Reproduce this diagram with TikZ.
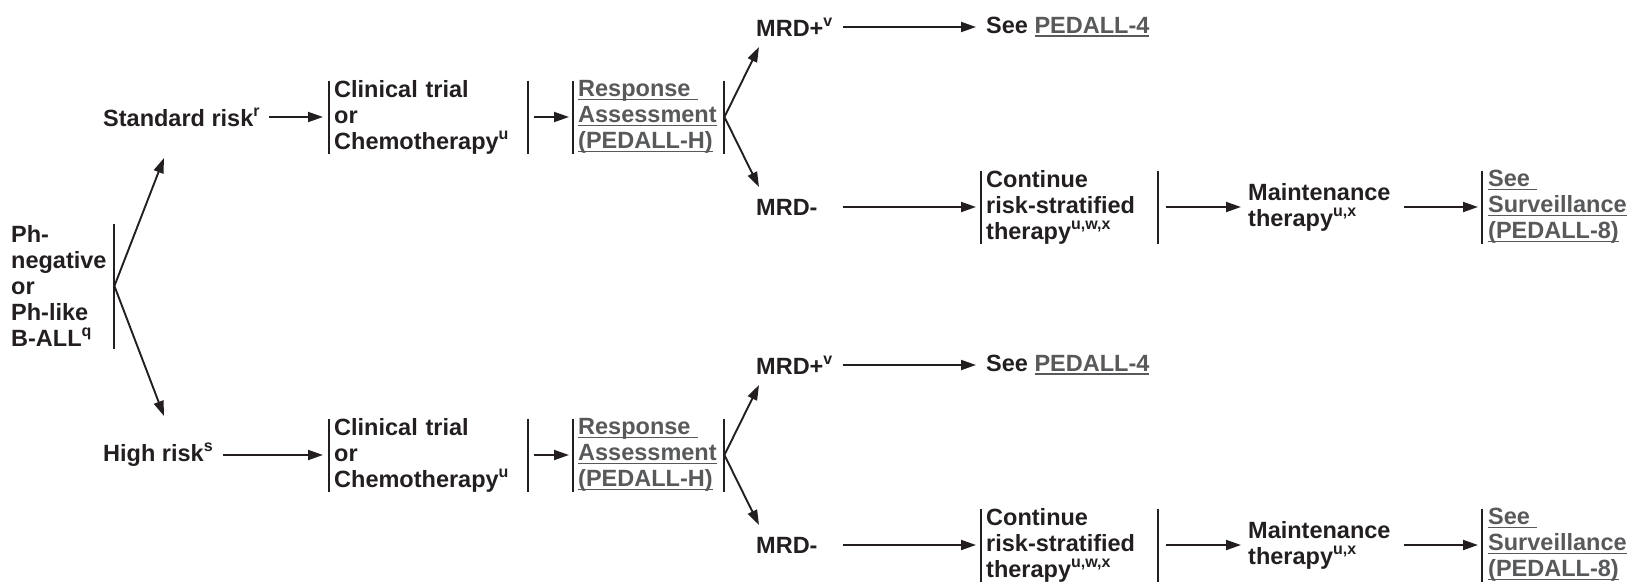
\documentclass[tikz,border=0pt]{standalone}
\usepackage{fontspec}
\setmainfont{Liberation Sans}
\usetikzlibrary{arrows.meta}

\definecolor{txtblack}{HTML}{231F20}
\definecolor{linkgray}{HTML}{58595B}

% underlined link text and small raised letters
\newcommand{\lnk}[1]{\textcolor{linkgray}{\setbox0\hbox{#1}\rlap{\rule[-3.5pt]{\wd0}{1.6pt}}\box0}}
\newcommand{\sups}[1]{\raisebox{10pt}{\fontsize{16}{16}\selectfont #1}}

\begin{document}
\begin{tikzpicture}[x=1pt, y=-1pt,
	lbl/.style={anchor=west, inner sep=0pt, align=left, text=txtblack,
		font=\fontsize{23.5}{26}\selectfont\bfseries},
	boxed/.style={lbl, inner xsep=5pt},
	arr/.style={draw=txtblack, line width=1.9pt, -{Triangle[length=15pt, width=10pt]}},
	bar/.style={draw=txtblack, line width=2pt}]

	\useasboundingbox (0,0) rectangle (1631,584);

	% Starting group
	\node[lbl, text width=103pt] (ph) at (11,286) {Ph-\\negative\\or\\Ph-like\\B-ALL\sups{q}};
	\draw[bar] ([yshift=62.5pt]ph.east) -- ([yshift=-62.5pt]ph.east);

	% Standard risk
	\node[lbl] (std) at (103,117) {Standard risk\sups{r}};
	\node[boxed, text width=189pt] (ct1) at (329,117) {Clinical trial\\or\\Chemotherapy\sups{u}};
	\node[boxed, text width=141pt] (ra1) at (573,117) {\lnk{Response\ }\\\lnk{Assessment}\\\lnk{(PEDALL-H)}};
	\node[lbl] (mp1) at (756,27) {MRD+\sups{v}};
	\node[lbl] (mm1) at (756,207) {MRD-};
	\node[lbl] (see1) at (986,27) {See \lnk{PEDALL-4}};
	\node[boxed, text width=167pt] (cont1) at (981,207) {Continue\\risk-stratified\\therapy\sups{u,w,x}};
	\node[lbl] (mt1) at (1248,207) {Maintenance\\therapy\sups{u,x}};
	\node[boxed, inner xsep=6pt] (surv1) at (1482,207) {\lnk{See\ }\\\lnk{Surveillance}\\\lnk{(PEDALL-8)}};

	\draw[bar] ([yshift=36.5pt]ct1.west) -- ([yshift=-36.5pt]ct1.west);
	\draw[bar] ([yshift=36.5pt]ct1.east) -- ([yshift=-36.5pt]ct1.east);
	\draw[bar] ([yshift=36.5pt]ra1.west) -- ([yshift=-36.5pt]ra1.west);
	\draw[bar] ([yshift=36.5pt]ra1.east) -- ([yshift=-36.5pt]ra1.east);
	\draw[bar] ([yshift=36.5pt]cont1.west) -- ([yshift=-36.5pt]cont1.west);
	\draw[bar] ([yshift=36.5pt]cont1.east) -- ([yshift=-36.5pt]cont1.east);
	\draw[bar] ([yshift=36.5pt]surv1.west) -- ([yshift=-36.5pt]surv1.west);

	\draw[arr] (ph.east) -- ([xshift=61pt,yshift=-41pt]std.west);
	\draw[arr] ([xshift=9pt]std.east) -- ([xshift=-6pt]ct1.west);
	\draw[arr] ([xshift=6pt]ct1.east) -- ([xshift=-4pt]ra1.west);
	\draw[arr] (ra1.east) -- ([xshift=3pt,yshift=-20pt]mp1.west);
	\draw[arr] (ra1.east) -- ([xshift=3pt,yshift=20pt]mm1.west);
	\draw[arr] ([xshift=10pt]mp1.east) -- ([xshift=-10pt]see1.west);
	\draw[arr] ([xshift=25pt]mm1.east) -- ([xshift=-5pt]cont1.west);
	\draw[arr] ([xshift=8pt]cont1.east) -- ([xshift=-7pt]mt1.west);
	\draw[arr] ([xshift=13pt]mt1.east) -- ([xshift=-4pt]surv1.west);

	% High risk
	\node[lbl] (hr) at (103,455) {High risk\sups{s}};
	\node[boxed, text width=189pt] (ct2) at (329,455) {Clinical trial\\or\\Chemotherapy\sups{u}};
	\node[boxed, text width=141pt] (ra2) at (573,455) {\lnk{Response\ }\\\lnk{Assessment}\\\lnk{(PEDALL-H)}};
	\node[lbl] (mp2) at (756,365) {MRD+\sups{v}};
	\node[lbl] (mm2) at (756,545) {MRD-};
	\node[lbl] (see2) at (986,365) {See \lnk{PEDALL-4}};
	\node[boxed, text width=167pt] (cont2) at (981,545) {Continue\\risk-stratified\\therapy\sups{u,w,x}};
	\node[lbl] (mt2) at (1248,545) {Maintenance\\therapy\sups{u,x}};
	\node[boxed, inner xsep=6pt] (surv2) at (1482,545) {\lnk{See\ }\\\lnk{Surveillance}\\\lnk{(PEDALL-8)}};

	\draw[bar] ([yshift=36.5pt]ct2.west) -- ([yshift=-36.5pt]ct2.west);
	\draw[bar] ([yshift=36.5pt]ct2.east) -- ([yshift=-36.5pt]ct2.east);
	\draw[bar] ([yshift=36.5pt]ra2.west) -- ([yshift=-36.5pt]ra2.west);
	\draw[bar] ([yshift=36.5pt]ra2.east) -- ([yshift=-36.5pt]ra2.east);
	\draw[bar] ([yshift=36.5pt]cont2.west) -- ([yshift=-36.5pt]cont2.west);
	\draw[bar] ([yshift=36.5pt]cont2.east) -- ([yshift=-36.5pt]cont2.east);
	\draw[bar] ([yshift=36.5pt]surv2.west) -- ([yshift=-36.5pt]surv2.west);

	\draw[arr] (ph.east) -- ([xshift=61pt,yshift=39pt]hr.west);
	\draw[arr] ([xshift=10pt]hr.east) -- ([xshift=-6pt]ct2.west);
	\draw[arr] ([xshift=6pt]ct2.east) -- ([xshift=-4pt]ra2.west);
	\draw[arr] (ra2.east) -- ([xshift=3pt,yshift=-20pt]mp2.west);
	\draw[arr] (ra2.east) -- ([xshift=3pt,yshift=20pt]mm2.west);
	\draw[arr] ([xshift=10pt]mp2.east) -- ([xshift=-10pt]see2.west);
	\draw[arr] ([xshift=25pt]mm2.east) -- ([xshift=-5pt]cont2.west);
	\draw[arr] ([xshift=8pt]cont2.east) -- ([xshift=-7pt]mt2.west);
	\draw[arr] ([xshift=13pt]mt2.east) -- ([xshift=-4pt]surv2.west);

\end{tikzpicture}
\end{document}
